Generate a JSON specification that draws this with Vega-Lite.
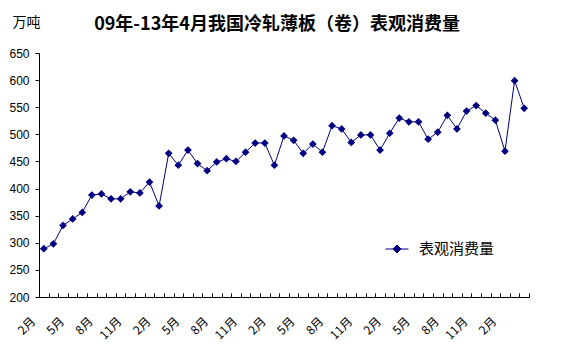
{
  "$schema": "https://vega.github.io/schema/vega-lite/v6.json",
  "autosize": "none",
  "width": 490,
  "height": 244,
  "padding": {"left": 39, "top": 53, "right": 32, "bottom": 56},
  "background": "white",
  "title": {
    "text": "09年-13年4月我国冷轧薄板（卷）表观消费量",
    "font": "Noto Sans CJK SC",
    "fontSize": 18,
    "fontWeight": "bold",
    "color": "#000000",
    "anchor": "middle",
    "frame": "group",
    "dx": -7,
    "offset": -19
  },
  "data": {
    "values": [
      {"month": "2009-02", "value": 289},
      {"month": "2009-03", "value": 298},
      {"month": "2009-04", "value": 332},
      {"month": "2009-05", "value": 344},
      {"month": "2009-06", "value": 356},
      {"month": "2009-07", "value": 388},
      {"month": "2009-08", "value": 390},
      {"month": "2009-09", "value": 381},
      {"month": "2009-10", "value": 381},
      {"month": "2009-11", "value": 394},
      {"month": "2009-12", "value": 392},
      {"month": "2010-01", "value": 412},
      {"month": "2010-02", "value": 368},
      {"month": "2010-03", "value": 465},
      {"month": "2010-04", "value": 443},
      {"month": "2010-05", "value": 471},
      {"month": "2010-06", "value": 446},
      {"month": "2010-07", "value": 433},
      {"month": "2010-08", "value": 449},
      {"month": "2010-09", "value": 455},
      {"month": "2010-10", "value": 450},
      {"month": "2010-11", "value": 467},
      {"month": "2010-12", "value": 484},
      {"month": "2011-01", "value": 484},
      {"month": "2011-02", "value": 443},
      {"month": "2011-03", "value": 497},
      {"month": "2011-04", "value": 489},
      {"month": "2011-05", "value": 465},
      {"month": "2011-06", "value": 482},
      {"month": "2011-07", "value": 467},
      {"month": "2011-08", "value": 516},
      {"month": "2011-09", "value": 510},
      {"month": "2011-10", "value": 485},
      {"month": "2011-11", "value": 499},
      {"month": "2011-12", "value": 499},
      {"month": "2012-01", "value": 471},
      {"month": "2012-02", "value": 502},
      {"month": "2012-03", "value": 530},
      {"month": "2012-04", "value": 523},
      {"month": "2012-05", "value": 523},
      {"month": "2012-06", "value": 491},
      {"month": "2012-07", "value": 504},
      {"month": "2012-08", "value": 535},
      {"month": "2012-09", "value": 510},
      {"month": "2012-10", "value": 543},
      {"month": "2012-11", "value": 553},
      {"month": "2012-12", "value": 539},
      {"month": "2013-01", "value": 526},
      {"month": "2013-02", "value": 469},
      {"month": "2013-03", "value": 599},
      {"month": "2013-04", "value": 548}
    ]
  },
  "encoding": {
    "x": {
      "field": "month",
      "type": "ordinal",
      "bandPosition": 0.5,
      "scale": {"type": "band", "paddingInner": 0, "paddingOuter": 0},
      "axis": {
        "title": null,
        "tickBand": "extent",
        "tickSize": -4,
        "tickColor": "#000000",
        "domainColor": "#000000",
        "labelAngle": -45,
        "labelAlign": "right",
        "labelBaseline": "middle",
        "labelPadding": 26,
        "labelOffset": -11,
        "labelFont": "Noto Sans CJK SC",
        "labelFontSize": 12,
        "labelColor": "#000000",
        "labelOverlap": false,
        "labelExpr": "indexof(['02','05','08','11'], substring(datum.value,5,7)) >= 0 ? toNumber(substring(datum.value,5,7)) + '月' : ''"
      }
    },
    "y": {
      "field": "value",
      "type": "quantitative",
      "scale": {"domain": [200, 650], "nice": false, "zero": false},
      "axis": {
        "values": [200, 250, 300, 350, 400, 450, 500, 550, 600, 650],
        "grid": false,
        "tickSize": 4,
        "tickColor": "#000000",
        "domainColor": "#000000",
        "labelFont": "Liberation Sans",
        "labelFontSize": 12,
        "labelColor": "#000000",
        "labelPadding": 6,
        "title": "万吨",
        "titleAngle": 0,
        "titleX": -13,
        "titleY": -31,
        "titleAlign": "center",
        "titleBaseline": "middle",
        "titleFont": "Noto Sans CJK SC",
        "titleFontSize": 14,
        "titleFontWeight": "normal",
        "titleColor": "#000000"
      }
    },
    "color": {
      "datum": "表观消费量",
      "type": "nominal",
      "scale": {"range": ["#000080"]},
      "legend": {
        "title": null,
        "orient": "none",
        "legendX": 346,
        "legendY": 184,
        "symbolType": "M-1,0L1,0M0,-0.35L0.35,0L0,0.35L-0.35,0Z",
        "symbolSize": 529,
        "symbolStrokeWidth": 1,
        "symbolStrokeColor": "#000080",
        "symbolFillColor": "#000080",
        "labelFont": "Noto Sans CJK SC",
        "labelFontSize": 15,
        "labelColor": "#000000",
        "labelOffset": 10
      }
    }
  },
  "layer": [
    {"mark": {"type": "line", "strokeWidth": 1}},
    {"mark": {"type": "point", "shape": "diamond", "filled": true, "size": 60, "opacity": 1}}
  ],
  "config": {
    "view": {"stroke": null}
  }
}
